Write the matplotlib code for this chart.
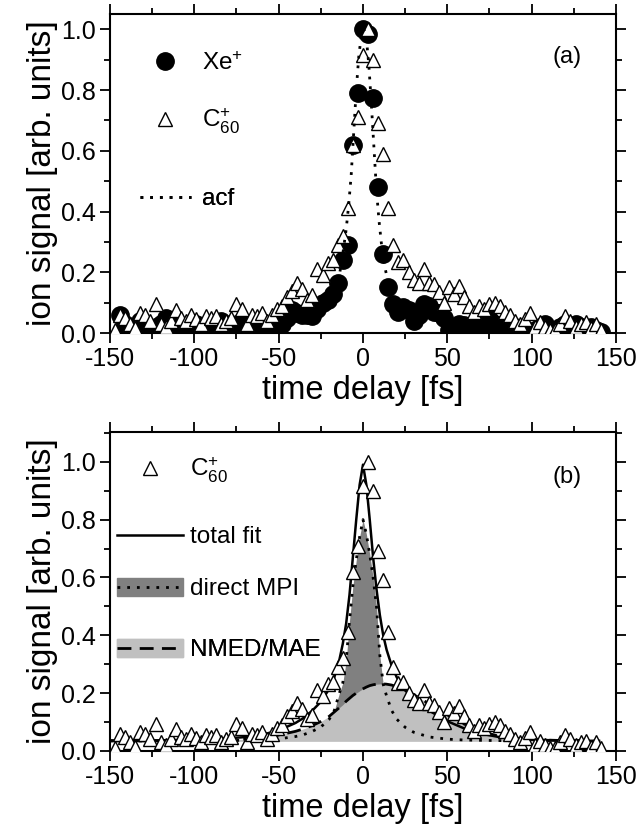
import matplotlib
matplotlib.use("Agg")
import matplotlib.pyplot as plt
from matplotlib.patches import Patch
from matplotlib.legend_handler import HandlerTuple
from matplotlib.ticker import MultipleLocator

### Data ###
# Xe+ scan (filled circles, panel a)
delay_xe = [-144, -141, -138, -135, -132, -129, -126, -123, -120, -117, -114, -111,
            -108, -105, -102, -99, -96, -93, -90, -87, -84, -81, -78, -75,
            -72, -69, -66, -63, -60, -57, -54, -51, -48, -45, -42, -39,
            -36, -33, -30, -27, -24, -21, -18, -15, -12, -9, -6, -3,
            0, 3, 6, 9, 12, 15, 18, 21, 24, 27, 30, 33,
            36, 39, 42, 45, 48, 51, 54, 57, 60, 63, 66, 69,
            72, 75, 78, 81, 84, 87, 90, 93, 96, 99, 102, 105,
            108, 111, 114, 117, 120, 123, 126, 129, 132, 135, 138, 141]
signal_xe = [0.06, 0.03, 0.01, 0.02, 0.04, 0.03, 0.01, 0.02, 0.03, 0.05, 0.04, 0.02,
             0.01, 0.02, 0.00, 0.03, 0.02, 0.01, 0.03, 0.02, 0.04, 0.01, 0.03, 0.02,
             0.04, 0.03, 0.01, 0.03, 0.02, 0.01, 0.02, 0.02, 0.03, 0.05, 0.075, 0.065,
             0.06, 0.06, 0.055, 0.08, 0.10, 0.11, 0.13, 0.165, 0.24, 0.29, 0.62, 0.79,
             1.00, 0.985, 0.775, 0.48, 0.26, 0.15, 0.095, 0.07, 0.085, 0.075, 0.04, 0.06,
             0.095, 0.09, 0.07, 0.065, 0.05, 0.01, 0.02, 0.03, 0.025, 0.02, 0.03, 0.035,
             0.03, 0.045, 0.03, 0.015, 0.02, 0.01, 0.02, 0.00, 0.01, 0.00, 0.01, 0.02,
             0.03, 0.01, 0.00, 0.02, 0.03, 0.02, 0.03, 0.02, 0.01, 0.02, 0.01, 0.005]

# C60+ scan (open triangles, both panels)
delay_c60 = [-147, -144, -141, -138, -135, -132, -129, -126, -123, -120, -117, -114,
             -111, -108, -105, -102, -99, -96, -93, -90, -87, -84, -81, -78,
             -75, -72, -69, -66, -63, -60, -57, -54, -51, -48, -45, -42,
             -39, -36, -33, -30, -27, -24, -21, -18, -15, -12, -9, -6,
             -3, 0, 3, 6, 9, 12, 15, 18, 21, 24, 27, 30,
             33, 36, 39, 42, 45, 48, 51, 54, 57, 60, 63, 66,
             69, 72, 75, 78, 81, 84, 87, 90, 93, 96, 99, 102,
             105, 108, 111, 114, 117, 120, 123, 126, 129, 132, 135, 138, 141]
signal_c60 = [0.01, 0.06, 0.05, 0.03, 0.015, 0.065, 0.06, 0.04, 0.095, 0.03, 0.02, 0.04,
              0.075, 0.05, 0.04, 0.06, 0.045, 0.03, 0.055, 0.05, 0.055, 0.03, 0.04, 0.05,
              0.095, 0.08, 0.03, 0.06, 0.055, 0.065, 0.04, 0.06, 0.08, 0.09, 0.12, 0.14,
              0.165, 0.145, 0.11, 0.125, 0.21, 0.19, 0.23, 0.24, 0.29, 0.32, 0.41, 0.62,
              0.71, 0.915, 1.00, 0.90, 0.69, 0.59, 0.41, 0.29, 0.235, 0.24, 0.20, 0.175,
              0.165, 0.21, 0.165, 0.16, 0.135, 0.10, 0.15, 0.13, 0.155, 0.12, 0.09, 0.07,
              0.09, 0.08, 0.095, 0.10, 0.09, 0.07, 0.06, 0.04, 0.03, 0.045, 0.065, 0.02,
              0.035, 0.02, 0.01, 0.01, 0.03, 0.055, 0.04, 0.02, 0.03, 0.035, 0.015, 0.03, 0.01]

# autocorrelation (dotted, panel a)
acf_x = [-16, -14, -12, -10, -8.5, -7, -5.5, -4, -2.5, -1, 0.5,
         2, 3.5, 5, 6.5, 8, 9.5, 11, 12.5, 14, 16]
acf_y = [0.14, 0.19, 0.26, 0.34, 0.42, 0.52, 0.66, 0.80, 0.91, 0.98, 1.00,
         0.97, 0.88, 0.75, 0.61, 0.47, 0.37, 0.29, 0.23, 0.19, 0.14]

# fit curves (panel b)
fit_x = [-150, -120, -100, -80, -70, -60, -50, -40, -35, -30, -25, -20, -17, -14,
         -12, -10, -8, -6, -4, -2, 0, 2, 4, 6, 8, 10, 12, 14, 17, 20, 25,
         30, 35, 40, 50, 60, 70, 80, 90, 100, 120, 140]
fit_total = [0.036, 0.037, 0.039, 0.044, 0.048, 0.056, 0.071, 0.097, 0.115, 0.140, 0.170,
             0.215, 0.255, 0.315, 0.37, 0.44, 0.54, 0.67, 0.80, 0.92, 0.99, 0.92, 0.80,
             0.67, 0.56, 0.47, 0.40, 0.35, 0.295, 0.255, 0.21, 0.18, 0.157, 0.137, 0.103,
             0.078, 0.060, 0.049, 0.042, 0.039, 0.036, 0.035]
fit_mpi = [0.035, 0.035, 0.035, 0.036, 0.037, 0.039, 0.042, 0.050, 0.057, 0.068, 0.083,
           0.11, 0.14, 0.20, 0.235, 0.31, 0.45, 0.57, 0.66, 0.74, 0.80, 0.75, 0.68,
           0.60, 0.50, 0.33, 0.23, 0.19, 0.14, 0.11, 0.082, 0.065, 0.056, 0.048, 0.041,
           0.038, 0.037, 0.036, 0.035, 0.035, 0.035, 0.035]
fit_nmed = [0.035, 0.035, 0.036, 0.038, 0.041, 0.046, 0.055, 0.068, 0.077, 0.088, 0.102,
            0.12, 0.135, 0.15, 0.16, 0.172, 0.182, 0.192, 0.20, 0.208, 0.215, 0.221, 0.226,
            0.229, 0.231, 0.232, 0.232, 0.231, 0.228, 0.222, 0.21, 0.195, 0.178, 0.16, 0.125,
            0.093, 0.068, 0.052, 0.043, 0.039, 0.036, 0.035]
fit_base = 0.035

### Style ###
plt.rcParams['font.family'] = ['Liberation Sans', 'DejaVu Sans']
plt.rcParams['mathtext.fontset'] = 'custom'
plt.rcParams['mathtext.rm'] = 'Liberation Sans'
plt.rcParams['mathtext.it'] = 'Liberation Sans:italic'
plt.rcParams['axes.unicode_minus'] = False

DARK = '#808080'
LIGHT = '#c0c0c0'
DOT = (0, (1, 2.5))


def style_axes(ax, ytop):
    ax.set_xlim(-150, 150)
    ax.set_ylim(0, ytop)
    ax.xaxis.set_major_locator(MultipleLocator(50))
    ax.xaxis.set_minor_locator(MultipleLocator(25))
    ax.yaxis.set_major_locator(MultipleLocator(0.2))
    ax.yaxis.set_minor_locator(MultipleLocator(0.1))
    ax.yaxis.set_major_formatter(plt.FormatStrFormatter('%.1f'))
    ax.tick_params(which='both', direction='out', top=True, right=True,
                   labelsize=18, width=1.3, pad=3)
    ax.tick_params(which='major', length=7)
    ax.tick_params(which='minor', length=4)
    for s in ax.spines.values():
        s.set_linewidth(1.5)
    ax.set_xlabel('time delay [fs]', fontsize=23.5, labelpad=3)
    ax.set_ylabel('ion signal [arb. units]', fontsize=24, labelpad=2)


def key(ax, handle, label, x, y, hlen, pad, **kw):
    leg = ax.legend([handle], [label], loc='center left', bbox_to_anchor=(x, y),
                    frameon=False, borderpad=0, borderaxespad=0, fontsize=17.5,
                    handlelength=hlen, handletextpad=pad, numpoints=1, **kw)
    ax.add_artist(leg)


fig = plt.figure(figsize=(6.38, 8.27), dpi=100)
ax_a = fig.add_axes([0.1724, 0.5973, 0.7931, 0.3857])
ax_b = fig.add_axes([0.1724, 0.0919, 0.7931, 0.3861])

### Panel (a) ###
h_xe, = ax_a.plot(delay_xe, signal_xe, 'o', ms=12.5, color='black', zorder=2)
h_c, = ax_a.plot(delay_c60, signal_c60, '^', ms=10.5, mfc='white', mec='black',
                 mew=1, zorder=3)
h_acf, = ax_a.plot(acf_x, acf_y, color='black', lw=2, ls=DOT, zorder=4)
style_axes(ax_a, 1.05)
ax_a.text(0.903, 0.865, '(a)', transform=ax_a.transAxes, fontsize=17,
          ha='center', va='center')
key(ax_a, h_xe, r'$\mathregular{Xe^{+}}$', 0.059, 0.846, 2.1, 0.45)
key(ax_a, h_c, r'$\mathregular{C_{60}^{+}}$', 0.059, 0.665, 2.1, 0.45)
key(ax_a, h_acf, 'acf', 0.059, 0.420, 2.1, 0.45)

### Panel (b) ###
ax_b.fill_between(fit_x, fit_base, fit_mpi, color=DARK, lw=0, zorder=1)
ax_b.fill_between(fit_x, fit_base, fit_nmed, color=LIGHT, lw=0, zorder=1.1)
h_mpi, = ax_b.plot(fit_x, fit_mpi, color='black', lw=2, ls=DOT, zorder=2)
h_nmed, = ax_b.plot(fit_x, fit_nmed, color='black', lw=2, ls=(0, (5, 3)), zorder=2)
h_tot, = ax_b.plot(fit_x, fit_total, color='black', lw=1.8, zorder=2.5)
h_cb, = ax_b.plot(delay_c60, signal_c60, '^', ms=10.5, mfc='white', mec='black',
                  mew=1, zorder=3)
style_axes(ax_b, 1.104)
ax_b.text(0.903, 0.858, '(b)', transform=ax_b.transAxes, fontsize=17,
          ha='center', va='center')
key(ax_b, h_cb, r'$\mathregular{C_{60}^{+}}$', 0.014, 0.880, 2.7, 0.3)
key(ax_b, h_tot, 'total fit', 0.014, 0.670, 2.7, 0.3)
key(ax_b, (Patch(color=DARK), h_mpi), 'direct MPI', 0.014, 0.507, 2.7, 0.3,
    handler_map={tuple: HandlerTuple(ndivide=1)}, handleheight=0.8)
key(ax_b, (Patch(color=LIGHT), h_nmed), 'NMED/MAE', 0.014, 0.316, 2.7, 0.3,
    handler_map={tuple: HandlerTuple(ndivide=1)}, handleheight=0.8)

fig.savefig('out.png', dpi=100)
